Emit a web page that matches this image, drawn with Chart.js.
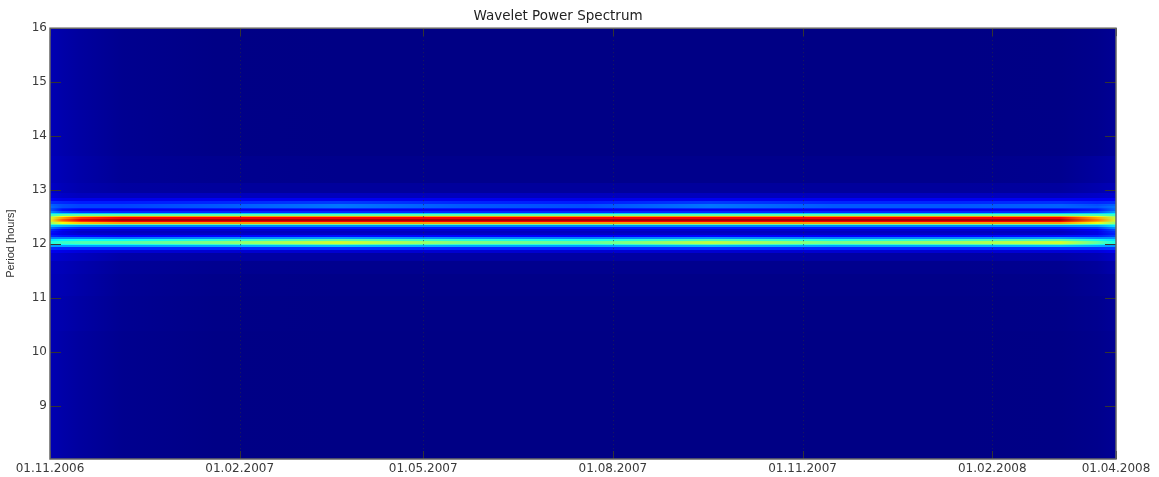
<!DOCTYPE html>
<html lang="de">
<head>
    <meta charset="UTF-8">
    <title>Wavelet Power Spectrum</title>
    <script src="https://cdn.jsdelivr.net/npm/chart.js"></script>
    <style>
        body {
            margin: 0;
            background: #fff;
        }
        #wrap {
            position: relative;
            width: 1159px;
            height: 477px;
        }
    </style>
</head>
<body>
    <div id="wrap"><canvas id="waveletChart"></canvas></div>

    <script>
        // Zeitachse (Tage seit 01.11.2006), Stützstellen der Spalten
        const timeDays = [0, 6, 15, 35, 80, 140, 200, 260, 320, 380, 440, 490, 508, 517];

        // Achsenbeschriftung
        const dateTickDays = [0, 92, 181, 273, 365, 457, 517];
        const dateTickLabels = ['01.11.2006', '01.02.2007', '01.05.2007', '01.08.2007', '01.11.2007', '01.02.2008', '01.04.2008'];
        const periodTicks = [9, 10, 11, 12, 13, 14, 15, 16];

        // Perioden (Stunden), Zeilenmitten
        const periods = [
            8.0, 9.0, 10.0, 10.8, 11.3, 11.6, 11.8, 11.88, 11.93, 11.97,
            12.00, 12.03, 12.06, 12.09, 12.12, 12.15, 12.19, 12.23, 12.27, 12.31,
            12.34, 12.37, 12.40, 12.43, 12.46, 12.49, 12.52, 12.55, 12.58, 12.61,
            12.64, 12.67, 12.70, 12.74, 12.78, 12.83, 12.90, 13.00, 13.30, 14.0,
            15.0, 16.0
        ];

        // normierte Leistung, eine Zeile je Periode, eine Spalte je Zeitpunkt
        const power = [
            [0.05, 0.04, 0.03, 0.015, 0.006, 0.005, 0.005, 0.005, 0.005, 0.005, 0.005, 0.006, 0.012, 0.02],
            [0.05, 0.04, 0.03, 0.015, 0.006, 0.005, 0.005, 0.005, 0.005, 0.005, 0.005, 0.006, 0.012, 0.02],
            [0.05, 0.04, 0.03, 0.015, 0.006, 0.005, 0.005, 0.005, 0.005, 0.005, 0.005, 0.006, 0.012, 0.02],
            [0.05, 0.045, 0.035, 0.018, 0.008, 0.006, 0.006, 0.006, 0.006, 0.006, 0.006, 0.008, 0.015, 0.025],
            [0.055, 0.05, 0.04, 0.02, 0.01, 0.008, 0.008, 0.008, 0.008, 0.008, 0.008, 0.01, 0.02, 0.03],
            [0.06, 0.055, 0.045, 0.025, 0.016, 0.014, 0.014, 0.014, 0.014, 0.014, 0.014, 0.016, 0.028, 0.045],
            [0.08, 0.07, 0.06, 0.04, 0.035, 0.035, 0.035, 0.035, 0.035, 0.035, 0.035, 0.037, 0.05, 0.07],
            [0.11, 0.10, 0.09, 0.08, 0.08, 0.08, 0.08, 0.08, 0.08, 0.08, 0.08, 0.085, 0.09, 0.11],
            [0.17, 0.16, 0.16, 0.16, 0.16, 0.17, 0.16, 0.16, 0.17, 0.16, 0.16, 0.17, 0.17, 0.18],
            [0.28, 0.28, 0.28, 0.28, 0.29, 0.31, 0.29, 0.28, 0.30, 0.28, 0.29, 0.31, 0.29, 0.27],
            [0.36, 0.38, 0.39, 0.39, 0.42, 0.48, 0.42, 0.40, 0.46, 0.41, 0.44, 0.48, 0.40, 0.35],
            [0.40, 0.43, 0.45, 0.46, 0.50, 0.58, 0.50, 0.47, 0.56, 0.49, 0.53, 0.58, 0.47, 0.39],
            [0.40, 0.43, 0.45, 0.46, 0.50, 0.57, 0.50, 0.47, 0.55, 0.49, 0.53, 0.57, 0.47, 0.39],
            [0.35, 0.37, 0.38, 0.38, 0.41, 0.46, 0.41, 0.39, 0.44, 0.40, 0.43, 0.46, 0.39, 0.35],
            [0.25, 0.25, 0.25, 0.24, 0.26, 0.28, 0.26, 0.25, 0.27, 0.25, 0.26, 0.28, 0.26, 0.27],
            [0.16, 0.14, 0.13, 0.12, 0.13, 0.14, 0.13, 0.12, 0.13, 0.12, 0.13, 0.14, 0.15, 0.19],
            [0.13, 0.10, 0.08, 0.07, 0.07, 0.07, 0.07, 0.07, 0.07, 0.07, 0.07, 0.07, 0.10, 0.16],
            [0.14, 0.10, 0.07, 0.06, 0.06, 0.06, 0.06, 0.06, 0.06, 0.06, 0.06, 0.06, 0.10, 0.17],
            [0.17, 0.12, 0.09, 0.08, 0.08, 0.08, 0.08, 0.08, 0.08, 0.08, 0.08, 0.08, 0.12, 0.20],
            [0.24, 0.19, 0.16, 0.15, 0.15, 0.15, 0.15, 0.15, 0.15, 0.15, 0.15, 0.15, 0.18, 0.27],
            [0.32, 0.30, 0.27, 0.26, 0.26, 0.26, 0.26, 0.26, 0.26, 0.26, 0.26, 0.26, 0.28, 0.35],
            [0.43, 0.46, 0.47, 0.47, 0.47, 0.47, 0.47, 0.47, 0.47, 0.47, 0.47, 0.47, 0.44, 0.43],
            [0.52, 0.62, 0.68, 0.72, 0.72, 0.72, 0.72, 0.72, 0.72, 0.72, 0.72, 0.72, 0.61, 0.51],
            [0.58, 0.72, 0.83, 0.89, 0.89, 0.89, 0.89, 0.89, 0.89, 0.89, 0.89, 0.89, 0.71, 0.56],
            [0.60, 0.78, 0.90, 0.96, 0.96, 0.96, 0.96, 0.96, 0.96, 0.96, 0.96, 0.96, 0.75, 0.58],
            [0.58, 0.72, 0.83, 0.89, 0.89, 0.89, 0.89, 0.89, 0.89, 0.89, 0.89, 0.89, 0.71, 0.56],
            [0.52, 0.62, 0.68, 0.72, 0.72, 0.72, 0.72, 0.72, 0.72, 0.72, 0.72, 0.72, 0.61, 0.51],
            [0.43, 0.46, 0.47, 0.47, 0.47, 0.47, 0.47, 0.47, 0.47, 0.47, 0.47, 0.47, 0.45, 0.43],
            [0.35, 0.33, 0.32, 0.32, 0.32, 0.32, 0.32, 0.32, 0.32, 0.32, 0.32, 0.32, 0.33, 0.36],
            [0.26, 0.20, 0.17, 0.16, 0.16, 0.16, 0.16, 0.16, 0.16, 0.16, 0.16, 0.16, 0.20, 0.28],
            [0.21, 0.14, 0.11, 0.11, 0.11, 0.11, 0.11, 0.11, 0.11, 0.11, 0.11, 0.11, 0.15, 0.23],
            [0.21, 0.16, 0.14, 0.14, 0.15, 0.17, 0.15, 0.14, 0.17, 0.15, 0.15, 0.16, 0.17, 0.23],
            [0.23, 0.20, 0.19, 0.19, 0.21, 0.24, 0.21, 0.20, 0.24, 0.21, 0.21, 0.22, 0.21, 0.24],
            [0.22, 0.20, 0.19, 0.19, 0.21, 0.24, 0.21, 0.20, 0.24, 0.21, 0.21, 0.22, 0.20, 0.22],
            [0.17, 0.16, 0.15, 0.15, 0.16, 0.18, 0.16, 0.15, 0.18, 0.16, 0.16, 0.17, 0.16, 0.17],
            [0.12, 0.10, 0.10, 0.10, 0.11, 0.11, 0.11, 0.10, 0.11, 0.11, 0.11, 0.11, 0.11, 0.12],
            [0.09, 0.07, 0.06, 0.06, 0.06, 0.06, 0.06, 0.06, 0.06, 0.06, 0.06, 0.06, 0.07, 0.08],
            [0.07, 0.055, 0.045, 0.032, 0.028, 0.028, 0.028, 0.028, 0.028, 0.028, 0.028, 0.03, 0.045, 0.055],
            [0.06, 0.05, 0.04, 0.022, 0.015, 0.012, 0.012, 0.012, 0.012, 0.012, 0.012, 0.015, 0.03, 0.04],
            [0.055, 0.045, 0.035, 0.018, 0.008, 0.006, 0.006, 0.006, 0.006, 0.006, 0.006, 0.008, 0.015, 0.025],
            [0.05, 0.04, 0.03, 0.015, 0.006, 0.005, 0.005, 0.005, 0.005, 0.005, 0.005, 0.006, 0.012, 0.02],
            [0.05, 0.04, 0.03, 0.015, 0.006, 0.005, 0.005, 0.005, 0.005, 0.005, 0.005, 0.006, 0.012, 0.02]
        ];

        // Jet-Farbskala (wie MATLAB)
        function jet(v) {
            const c = x => Math.round(255 * Math.min(1, Math.max(0, x)));
            const r = c(1.5 - Math.abs(4 * v - 3));
            const g = c(1.5 - Math.abs(4 * v - 2));
            const b = c(1.5 - Math.abs(4 * v - 1));
            return `rgb(${r},${g},${b})`;
        }

        const heatmapPlugin = {
            id: 'heatmap',
            beforeDatasetsDraw(chart) {
                const { ctx, chartArea: a, scales: { x, y } } = chart;
                ctx.save();
                ctx.beginPath();
                ctx.rect(a.left, a.top, a.right - a.left, a.bottom - a.top);
                ctx.clip();
                const x0 = x.getPixelForValue(timeDays[0]);
                const x1 = x.getPixelForValue(timeDays[timeDays.length - 1]);
                for (let i = 0; i < periods.length; i++) {
                    const lo = i === 0 ? y.min : (periods[i - 1] + periods[i]) / 2;
                    const hi = i === periods.length - 1 ? y.max : (periods[i] + periods[i + 1]) / 2;
                    const yTop = Math.floor(y.getPixelForValue(hi));
                    const yBot = Math.ceil(y.getPixelForValue(lo));
                    const grad = ctx.createLinearGradient(x0, 0, x1, 0);
                    timeDays.forEach((t, j) => {
                        grad.addColorStop((x.getPixelForValue(t) - x0) / (x1 - x0), jet(power[i][j]));
                    });
                    ctx.fillStyle = grad;
                    ctx.fillRect(x0, yTop, x1 - x0, yBot - yTop);
                }
                ctx.restore();
            },
            afterDraw(chart) {
                const { ctx, chartArea: a, scales: { x, y } } = chart;
                ctx.save();
                // gepunktete Gitterlinien
                ctx.strokeStyle = 'rgba(40,40,70,0.75)';
                ctx.lineWidth = 1;
                ctx.setLineDash([1, 3]);
                dateTickDays.slice(1, -1).forEach(d => {
                    const px = Math.round(x.getPixelForValue(d)) + 0.5;
                    ctx.beginPath();
                    ctx.moveTo(px, a.top);
                    ctx.lineTo(px, a.bottom);
                    ctx.stroke();
                });
                ctx.setLineDash([]);
                // Ticks nach innen
                ctx.strokeStyle = '#333';
                ctx.beginPath();
                periodTicks.forEach(p => {
                    const py = Math.round(y.getPixelForValue(p)) + 0.5;
                    ctx.moveTo(a.left, py); ctx.lineTo(a.left + 11, py);
                    ctx.moveTo(a.right, py); ctx.lineTo(a.right - 11, py);
                });
                dateTickDays.forEach(d => {
                    const px = Math.round(x.getPixelForValue(d)) + 0.5;
                    ctx.moveTo(px, a.bottom); ctx.lineTo(px, a.bottom - 8);
                    ctx.moveTo(px, a.top); ctx.lineTo(px, a.top + 8);
                });
                ctx.stroke();
                // Rahmen
                ctx.strokeStyle = '#666';
                ctx.lineWidth = 1.5;
                ctx.strokeRect(a.left, a.top, a.right - a.left, a.bottom - a.top);
                ctx.restore();
            }
        };

        const ctx = document.getElementById('waveletChart').getContext('2d');
        new Chart(ctx, {
            type: 'scatter',
            data: { datasets: [{ data: [] }] },
            plugins: [heatmapPlugin],
            options: {
                responsive: true,
                maintainAspectRatio: false,
                animation: false,
                events: [],
                layout: { padding: { right: 43 } },
                plugins: {
                    legend: { display: false },
                    tooltip: { enabled: false },
                    title: {
                        display: true,
                        text: 'Wavelet Power Spectrum',
                        color: '#222',
                        font: { family: 'DejaVu Sans', size: 13.5, weight: 'normal' },
                        padding: { top: 8, bottom: 4 }
                    }
                },
                scales: {
                    x: {
                        type: 'linear',
                        min: dateTickDays[0],
                        max: dateTickDays[dateTickDays.length - 1],
                        grid: { display: false, drawTicks: false },
                        border: { display: false },
                        afterBuildTicks: scale => {
                            scale.ticks = dateTickDays.map(v => ({ value: v }));
                        },
                        afterFit: scale => { scale.height = 18; },
                        ticks: {
                            autoSkip: false,
                            maxRotation: 0,
                            padding: 3,
                            color: '#3a3a3a',
                            font: { family: 'DejaVu Sans', size: 12 },
                            callback: (value, index) => dateTickLabels[index]
                        }
                    },
                    y: {
                        type: 'linear',
                        min: 8.02,
                        max: 16,
                        grid: { display: false, drawTicks: false },
                        border: { display: false },
                        afterBuildTicks: scale => {
                            scale.ticks = periodTicks.map(v => ({ value: v }));
                        },
                        afterFit: scale => { scale.width = 50; },
                        title: {
                            display: true,
                            text: 'Period [hours]',
                            color: '#333',
                            font: { family: 'Liberation Sans', size: 11 },
                            padding: { top: 4, bottom: 0 }
                        },
                        ticks: {
                            padding: 3,
                            color: '#3a3a3a',
                            font: { family: 'DejaVu Sans', size: 12 },
                            callback: value => String(value)
                        }
                    }
                }
            }
        });
    </script>
</body>
</html>
